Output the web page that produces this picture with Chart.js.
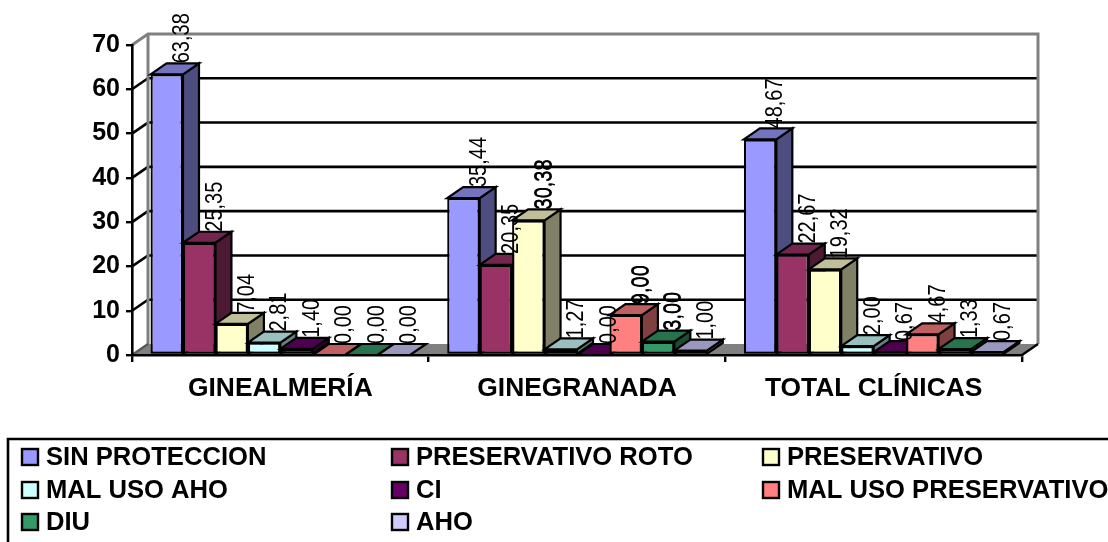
<!DOCTYPE html>
<html><head><meta charset="utf-8">
<style>html,body{margin:0;padding:0;background:#fff;overflow:hidden}#wrap{width:1108px;height:542px;position:relative}</style>
<script src="https://cdn.jsdelivr.net/npm/chart.js@4"></script>
</head><body><div id="wrap"><canvas id="c"></canvas></div>
<script>
const categories = ['GINEALMERÍA','GINEGRANADA','TOTAL CLÍNICAS'];
const seriesNames = ['SIN PROTECCION','PRESERVATIVO ROTO','PRESERVATIVO','MAL USO AHO','CI','MAL USO PRESERVATIVO','DIU','AHO'];
const sinProteccion = [63.38,35.44,48.67];
const preservativoRoto = [25.35,20.35,22.67];
const preservativo = [7.04,30.38,19.32];
const malUsoAho = [2.81,1.27,2.00];
const ci = [1.40,0.00,0.67];
const malUsoPreservativo = [0.00,9.00,4.67];
const diu = [0.00,3.00,1.33];
const aho = [0.00,1.00,0.67];
const seriesValues = [sinProteccion,preservativoRoto,preservativo,malUsoAho,ci,malUsoPreservativo,diu,aho];
const seriesColors = ['#9999FF','#993366','#FFFFCC','#CCFFFF','#660066','#FF8080','#339966','#CCCCFF'];
const FONT = '"Liberation Sans", Arial, sans-serif';
const DX = 16, DY = 11, LINE = 2.2;
function shade(hex,f){const n=parseInt(hex.slice(1),16);
  return `rgb(${Math.round((n>>16&255)*f)},${Math.round((n>>8&255)*f)},${Math.round((n&255)*f)})`;}
function seg(ctx,pts,color,w){ctx.save();ctx.strokeStyle=color;ctx.lineWidth=w;ctx.lineJoin='miter';ctx.beginPath();
  pts.forEach((p,i)=>i?ctx.lineTo(p[0],p[1]):ctx.moveTo(p[0],p[1]));ctx.stroke();ctx.restore();}
function poly(ctx,pts,fill){ctx.save();ctx.fillStyle=fill;ctx.strokeStyle='#000';ctx.lineWidth=LINE;ctx.lineJoin='miter';ctx.beginPath();
  pts.forEach((p,i)=>i?ctx.lineTo(p[0],p[1]):ctx.moveTo(p[0],p[1]));ctx.closePath();ctx.fill();ctx.stroke();ctx.restore();}
const walls = {id:'walls',beforeDraw(chart){
  const {ctx,chartArea:{left:L,right:R,top:T,bottom:B},scales:{y}}=chart;
  ctx.save();ctx.fillStyle='#808080';ctx.beginPath();ctx.moveTo(L,B);ctx.lineTo(L+DX,B-DY);ctx.lineTo(R+DX,B-DY);ctx.lineTo(R,B);ctx.closePath();ctx.fill();ctx.restore();
  y.ticks.forEach(t=>{const p=y.getPixelForValue(t.value);
    if(t.value>0&&t.value<y.max) seg(ctx,[[L,p],[L+DX,p-DY],[R+DX,p-DY]],'#000',2.6);});
  seg(ctx,[[L,T],[L+DX,T-DY],[R+DX,T-DY],[R+DX,B-DY]],'#808080',3);
  seg(ctx,[[L+DX,T-DY],[L+DX,B-DY]],'#808080',3);
  seg(ctx,[[L,B],[L+DX,B-DY]],'#555',2.2);
  seg(ctx,[[R,B],[R+DX,B-DY]],'#000',2.2);
}};
const bars3d = {id:'bars3d',beforeDatasetsDraw(chart){
  const ctx=chart.ctx;
  chart.data.datasets.forEach((ds,i)=>{
    const meta=chart.getDatasetMeta(i),col=seriesColors[i];
    meta.data.forEach(el=>{
      const l=el.x-el.width/2,r=el.x+el.width/2,t=el.y,b=el.base;
      if(b-t>0.5) poly(ctx,[[r,t],[r+DX,t-DY],[r+DX,b-DY],[r,b]],shade(col,0.5));
      poly(ctx,[[l,t],[l+DX,t-DY],[r+DX,t-DY],[r,t]],shade(col,0.75));
    });
    meta.controller.draw();
  });
  return false;
},afterDraw(chart){
  const ctx=chart.ctx;
  const doubled=new Set(['2:1','5:1','6:1']);
  ctx.save();ctx.fillStyle='#000';ctx.font='23px '+FONT;ctx.textAlign='left';ctx.textBaseline='middle';
  chart.data.datasets.forEach((ds,i)=>{
    chart.getDatasetMeta(i).data.forEach((el,j)=>{
      const s=ds.data[j].toFixed(2).replace('.',',');
      ctx.save();ctx.translate(el.x+DX,el.y-DY);ctx.rotate(-Math.PI/2);ctx.scale(0.87,1);
      ctx.fillText(s,0,0);
      if(doubled.has(i+':'+j)) ctx.fillText(s,0,1);
      ctx.restore();
    });
  });
  ctx.restore();
}};
const legendGrid = {id:'legendGrid',afterDraw(chart){
  const ctx=chart.ctx,cols=[22,392,763],rows=[457,490,522];
  seg(ctx,[[8,545],[8,439],[1110,439]],'#000',2.6);
  ctx.save();ctx.font='bold 25.6px '+FONT;ctx.textBaseline='middle';ctx.textAlign='left';
  chart.data.datasets.forEach((ds,i)=>{
    const x=cols[i%3],y=rows[Math.floor(i/3)];
    ctx.fillStyle=ds.backgroundColor;ctx.strokeStyle='#000';ctx.lineWidth=2.4;
    ctx.fillRect(x,y-8,16,16);ctx.strokeRect(x,y-8,16,16);
    ctx.fillStyle='#000';ctx.fillText(ds.label,x+24,y+1);
  });
  ctx.restore();
}};
new Chart(document.getElementById('c'),{
  type:'bar',
  data:{labels:categories,datasets:seriesNames.map((n,i)=>({label:n,data:seriesValues[i],backgroundColor:seriesColors[i],
    borderColor:'#000',borderWidth:LINE,categoryPercentage:0.875,barPercentage:1,borderSkipped:false,minBarLength:0}))},
  options:{responsive:true,maintainAspectRatio:false,animation:false,
    layout:{padding:{top:45,left:0,right:86,bottom:137}},
    plugins:{legend:{display:false},tooltip:{enabled:false}},
    scales:{
      x:{afterFit(s){s.height=50;},
        grid:{display:true,drawOnChartArea:false,drawTicks:true,tickLength:7,color:'#000',lineWidth:2.4,offset:true},
        border:{display:true,color:'#000',width:2.6},
        ticks:{font:{family:FONT,size:26.4,weight:'bold'},color:'#000',padding:11,maxRotation:0}},
      y:{min:0,max:70,afterFit(s){s.width=132;},
        grid:{display:true,drawOnChartArea:false,drawTicks:true,tickLength:6,color:'#000',lineWidth:2.4},
        border:{display:true,color:'#000',width:2.6},
        ticks:{stepSize:10,font:{family:FONT,size:25,weight:'bold'},color:'#000',padding:6}}
    }},
  plugins:[walls,bars3d,legendGrid]
});
</script></body></html>
